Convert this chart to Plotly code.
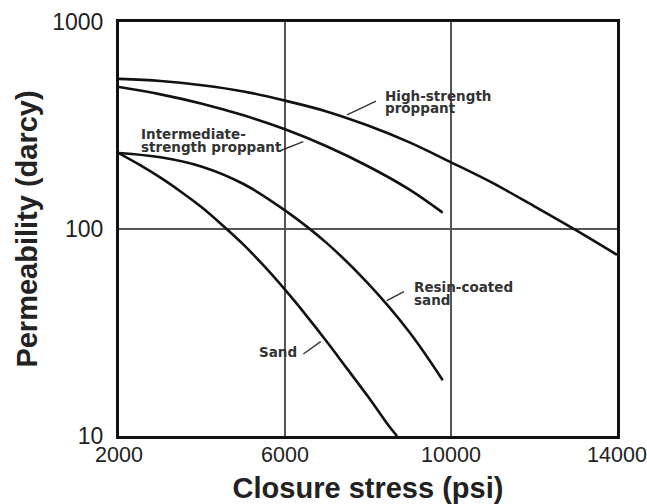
import math
import plotly.graph_objects as go

# ---- data ----
x_high = [2000, 3000, 4000, 5000, 6000, 7000, 8000, 9000, 10000, 11000, 12000, 13000, 14000]
y_high = [531, 519, 495, 462, 417, 370, 316, 262, 210, 167, 129, 99, 75]

x_inter = [2000, 3000, 4000, 5000, 6000, 7000, 8000, 9000, 9800]
y_inter = [485, 447, 403, 354, 303, 251, 201, 155, 120]

x_resin = [2000, 3000, 4000, 5000, 6000, 7000, 8000, 9000, 9800]
y_resin = [233, 222, 200, 165, 123, 85.7, 54.6, 31.7, 18.6]

x_sand = [2000, 2500, 3000, 3500, 4000, 4500, 5000, 5500, 6000, 6500, 7000, 7500, 8000, 8500, 8700]
y_sand = [232, 204, 177, 151, 127, 104, 84, 66.1, 50.9, 38.5, 28.7, 21.1, 15.5, 11.2, 10]

x_ticks = [2000, 6000, 10000, 14000]
x_tick_text = ["2000", "6000", "10000", "14000"]
y_ticks = [10, 100, 1000]
y_tick_text = ["10", "100", "1000"]

x_title = "Closure stress (psi)"
y_title = "Permeability (darcy)"

X_MIN, X_MAX = 2000, 14000
Y_LOG_MIN, Y_LOG_MAX = 1, 3

# ---- labels (layout) ----
# each label line: text, x (psi), y (darcy)
label_lines = [
    ("High-strength", 8361, 10 ** 2.644),
    ("proppant", 8361, 10 ** 2.584),
    ("Intermediate-", 2482, 10 ** 2.459),
    ("strength proppant", 2482, 10 ** 2.397),
    ("Resin-coated", 9060, 10 ** 1.721),
    ("sand", 9060, 10 ** 1.659),
    ("Sand", 5325, 10 ** 1.406),
]
# leader lines: (x0, y0, x1, y1) in data units
leaders = [
    (7494, 10 ** 2.551, 8193, 10 ** 2.618),
    (5880, 10 ** 2.378, 6441, 10 ** 2.422),
    (8451, 10 ** 1.654, 8867, 10 ** 1.697),
    (6441, 10 ** 1.396, 6860, 10 ** 1.456),
]
# white gaps in the grid lines behind the labels: (x0, x1, y0, y1)
gaps = [
    (9700, 10300, 10 ** 2.527, 10 ** 2.686),
    (9700, 10300, 10 ** 1.604, 10 ** 1.758),
    (5700, 6300, 10 ** 1.353, 10 ** 1.464),
    (5700, 6300, 10 ** 2.343, 10 ** 2.386),
]


def px(x):
    return (x - X_MIN) / (X_MAX - X_MIN)


def py(y):
    return (math.log10(y) - Y_LOG_MIN) / (Y_LOG_MAX - Y_LOG_MIN)


fig = go.Figure()
line_style = dict(color="#111111", width=2.6, shape="spline", smoothing=1.0)
for xs, ys in [(x_high, y_high), (x_inter, y_inter), (x_resin, y_resin), (x_sand, y_sand)]:
    fig.add_trace(go.Scatter(x=xs, y=ys, mode="lines", line=line_style,
                             showlegend=False, hoverinfo="skip", cliponaxis=True))

shapes = []
for x0, x1, y0, y1 in gaps:
    shapes.append(dict(type="rect", xref="paper", yref="paper",
                       x0=px(x0), x1=px(x1), y0=py(y0), y1=py(y1),
                       fillcolor="white", line=dict(width=0), layer="between"))
for x0, y0, x1, y1 in leaders:
    shapes.append(dict(type="line", xref="paper", yref="paper",
                       x0=px(x0), y0=py(y0), x1=px(x1), y1=py(y1),
                       line=dict(color="#333333", width=1.4), layer="above"))

annotations = []
for text, x, y in label_lines:
    annotations.append(dict(text=text, x=x, y=math.log10(y), xref="x", yref="y",
                            xanchor="left", yanchor="middle", showarrow=False,
                            font=dict(family="DejaVu Sans", size=13.5, color="#333333",
                                      weight="bold")))

fig.update_layout(
    width=647, height=504,
    margin=dict(l=119, r=30, t=22, b=68),
    paper_bgcolor="white", plot_bgcolor="white",
    shapes=shapes, annotations=annotations,
    font=dict(family="Liberation Sans, Arial, sans-serif", color="#222222"),
)
title_font = dict(size=29, family="Liberation Sans, Arial, sans-serif", weight="bold", color="#222222")
fig.update_xaxes(
    range=[X_MIN, X_MAX], tickvals=x_ticks, ticktext=x_tick_text,
    showgrid=True, gridcolor="#555555", gridwidth=1.5,
    showline=True, mirror=True, linecolor="#111111", linewidth=3,
    ticks="", ticklabelstandoff=-3, tickfont=dict(size=21.5), ticklabeloverflow="allow",
    title=dict(text=x_title, font=title_font, standoff=12),
    zeroline=False, automargin=False,
)
fig.update_yaxes(
    type="log", range=[Y_LOG_MIN, Y_LOG_MAX], tickvals=y_ticks, ticktext=y_tick_text,
    showgrid=True, gridcolor="#555555", gridwidth=1.5,
    showline=True, mirror=True, linecolor="#111111", linewidth=3,
    ticks="", ticklabelstandoff=8, tickfont=dict(size=23),
    title=dict(text=y_title, font=title_font, standoff=7),
    zeroline=False, automargin=False,
)

# remove the default page margin so the 647x504 figure fills the window exactly
fig.write_html("out.html", config={"displayModeBar": False},
               post_script="document.body.style.margin='0';")
